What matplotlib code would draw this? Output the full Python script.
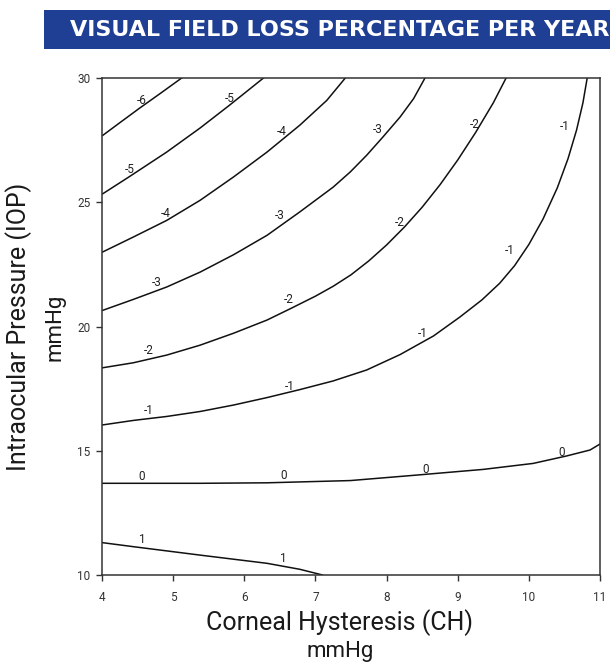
import matplotlib.pyplot as plt
from matplotlib.patches import Rectangle

# contour lines: CH (x) and IOP (y) for each level
ch_m6 = [4.01, 4.25, 4.53, 4.82, 5.12]
iop_m6 = [27.69, 28.20, 28.79, 29.38, 30.0]

ch_m5 = [4.01, 4.39, 4.91, 5.38, 5.79, 6.27]
iop_m5 = [25.34, 26.04, 27.02, 27.99, 28.90, 30.0]

ch_m4 = [4.01, 4.44, 4.91, 5.38, 5.85, 6.32, 6.78, 7.16, 7.42]
iop_m4 = [23.00, 23.60, 24.27, 25.08, 26.02, 27.02, 28.10, 29.10, 30.0]

ch_m3 = [4.01, 4.44, 4.91, 5.38, 5.85, 6.32, 6.78, 7.25, 7.49, 7.72, 7.95, 8.19, 8.38, 8.54]
iop_m3 = [20.65, 21.09, 21.59, 22.19, 22.89, 23.67, 24.61, 25.61, 26.22, 26.89, 27.63, 28.43, 29.17, 30.0]

ch_m2 = [4.01, 4.44, 4.91, 5.38, 5.85, 6.32, 6.65, 7.0, 7.25, 7.5, 7.75, 8.0, 8.25, 8.5,
         8.75, 9.0, 9.25, 9.5, 9.68]
iop_m2 = [18.34, 18.54, 18.85, 19.25, 19.73, 20.26, 20.72, 21.22, 21.62, 22.08, 22.64, 23.28,
          24.0, 24.8, 25.7, 26.7, 27.8, 29.0, 30.0]

ch_m1 = [4.01, 4.44, 4.91, 5.38, 5.85, 6.32, 6.78, 7.25, 7.72, 8.19, 8.66, 9.03, 9.34, 9.59,
         9.80, 10.0, 10.2, 10.4, 10.55, 10.67, 10.76, 10.82]
iop_m1 = [16.04, 16.22, 16.38, 16.58, 16.84, 17.14, 17.46, 17.81, 18.25, 18.87, 19.62, 20.38,
          21.07, 21.74, 22.45, 23.30, 24.33, 25.58, 26.75, 27.90, 29.0, 30.0]

ch_0 = [4.01, 5.38, 6.32, 7.49, 8.42, 9.36, 10.06, 10.53, 10.86, 11.0]
iop_0 = [13.69, 13.69, 13.71, 13.80, 14.02, 14.25, 14.49, 14.79, 15.03, 15.27]

ch_p1 = [4.01, 4.44, 5.38, 6.32, 6.78, 7.10]
iop_p1 = [11.30, 11.14, 10.80, 10.47, 10.23, 10.0]

lines = [(ch_m6, iop_m6), (ch_m5, iop_m5), (ch_m4, iop_m4), (ch_m3, iop_m3),
         (ch_m2, iop_m2), (ch_m1, iop_m1), (ch_0, iop_0), (ch_p1, iop_p1)]

# contour labels: text, CH, IOP
label_txt = ['-6', '-5', '-5', '-4', '-4', '-3', '-3', '-3', '-2', '-2', '-2', '-2',
             '-1', '-1', '-1', '-1', '-1', '0', '0', '0', '0', '1', '1']
label_ch = [4.56, 4.39, 5.79, 4.90, 6.53, 4.77, 6.50, 7.88, 4.65, 6.62, 8.19, 9.24,
            4.65, 6.64, 8.51, 9.73, 10.51, 4.56, 6.55, 8.55, 10.46, 4.56, 6.55]
label_iop = [29.11, 26.31, 29.19, 24.54, 27.83, 21.76, 24.45, 27.94, 19.05, 21.08, 24.18, 28.12,
             16.61, 17.58, 19.73, 23.04, 28.03, 13.98, 14.02, 14.25, 14.92, 11.44, 10.67]

x_ticks = [4, 5, 6, 7, 8, 9, 10, 11]
y_ticks = [10, 15, 20, 25, 30]

plt.rcParams['font.family'] = ['Roboto', 'DejaVu Sans']

fig = plt.figure(figsize=(6.1, 6.62), dpi=100)

# title banner
fig.patches.append(Rectangle((44 / 610, 1 - 49 / 662), 1.0, 39 / 662,
                             transform=fig.transFigure, facecolor='#1e3f94',
                             edgecolor='none'))
fig.text(70 / 610, 1 - 30 / 662, 'VISUAL FIELD LOSS PERCENTAGE PER YEAR',
         color='white', fontsize=16, fontweight='bold', va='center', ha='left',
         family=['DejaVu Sans'])

ax = fig.add_axes([102 / 610, 87 / 662, 498 / 610, 497 / 662])

for xs, ys in lines:
    ax.plot(xs, ys, color='#111111', lw=1.1, solid_joinstyle='round')

for t, cx, cy in zip(label_txt, label_ch, label_iop):
    ax.text(cx, cy, t, ha='center', va='center', fontsize=8.5, color='#222222')

ax.set_xlim(4, 11)
ax.set_ylim(10, 30)
ax.set_xticks(x_ticks)
ax.set_yticks(y_ticks)
ax.tick_params(direction='out', length=4.3, width=1, colors='#333333',
               labelsize=8.5)
ax.tick_params(axis='x', pad=7)
ax.tick_params(axis='y', pad=4)
for s in ax.spines.values():
    s.set_color('#333333')
    s.set_linewidth(1.1)

fig.text(340 / 610, 1 - 623 / 662, 'Corneal Hysteresis (CH)', ha='center',
         va='center', fontsize=18, color='#1a1a1a')
fig.text(340 / 610, 1 - 652 / 662, 'mmHg', ha='center', va='center',
         fontsize=16, color='#1a1a1a')
fig.text(19 / 610, 1 - 327 / 662, 'Intraocular Pressure (IOP)', ha='center',
         va='center', rotation=90, fontsize=18, color='#1a1a1a')
fig.text(55 / 610, 1 - 327 / 662, 'mmHg', ha='center', va='center',
         rotation=90, fontsize=16, color='#1a1a1a')

fig.savefig('out.png', dpi=100)
